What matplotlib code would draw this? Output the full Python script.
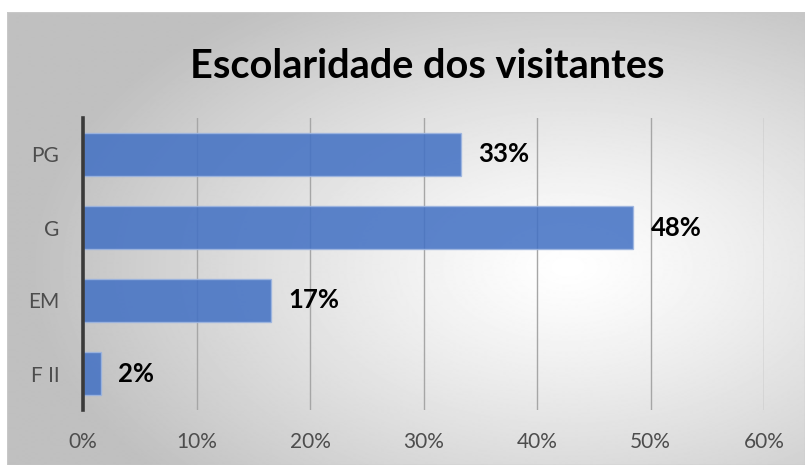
import numpy as np
import matplotlib
matplotlib.use("Agg")
import matplotlib.pyplot as plt
from matplotlib.patches import Rectangle

# data
categories = ["F II", "EM", "G", "PG"]
values = [1.6, 16.6, 48.5, 33.3]   # percent
xticks = [0, 10, 20, 30, 40, 50, 60]
title = "Escolaridade dos visitantes"

plt.rcParams['font.family'] = ['Lato', 'DejaVu Sans']

W, H = 805, 465
fig = plt.figure(figsize=(W / 100, H / 100), dpi=100)
fig.patch.set_facecolor("white")

# radial gradient background of the chart area
bg = fig.add_axes([7 / W, 0, 1 - 7 / W, (H - 12) / H], zorder=0)
yy, xx = np.mgrid[0:453, 0:798]
cx, cy = 560, 255
r = np.sqrt(((xx - cx) / 540.0) ** 2 + ((yy - cy) / 320.0) ** 2)
shade = 1.0 - 0.25 * np.clip(r, 0, 1) ** 1.2
bg.imshow(shade, cmap="gray", vmin=0, vmax=1, aspect="auto",
          extent=[0, 1, 0, 1], interpolation="bilinear")
bg.add_patch(Rectangle((0, 0), 1, 1, transform=bg.transAxes, fill=False,
                       edgecolor="#c8c8c8", linewidth=1.0))
bg.set_axis_off()

ax = fig.add_axes([83 / W, 1 - 410 / H, (764 - 83) / W, (410 - 118) / H], zorder=1)
ax.patch.set_alpha(0)

ypos = np.arange(len(categories))
bars = ax.barh(ypos, values, height=0.58, color="#4472C4", alpha=0.87,
               edgecolor="#9db5e0", linewidth=1.0, zorder=2)

for y, v in zip(ypos, values):
    ax.text(v + 1.5, y, f"{round(v)}%", va="center", ha="left",
            fontsize=18.5, fontweight="bold", color="black", zorder=3)

ax.set_xlim(0, 60)
ax.set_ylim(-0.5, len(categories) - 0.5)
ax.set_xticks(xticks)
ax.set_xticklabels([f"{t}%" for t in xticks])
ax.set_yticks(ypos)
ax.set_yticklabels(categories)
ax.tick_params(axis="both", length=0, labelsize=15, labelcolor="#4d4d4d")
ax.tick_params(axis="x", pad=16)
ax.tick_params(axis="y", pad=17)

ax.grid(axis="x", color="#a6a6a6", linewidth=1.0, zorder=1)
ax.set_axisbelow(True)
for side in ["top", "right", "bottom"]:
    ax.spines[side].set_visible(False)
ax.spines["left"].set_color("#3a3a3a")
ax.spines["left"].set_linewidth(2.6)
ax.spines["left"].set_zorder(4)

fig.text(427 / W, 1 - 66 / H, title, ha="center", va="center",
         fontsize=28.5, fontweight="bold", color="black")

fig.savefig("out.png", dpi=100)
